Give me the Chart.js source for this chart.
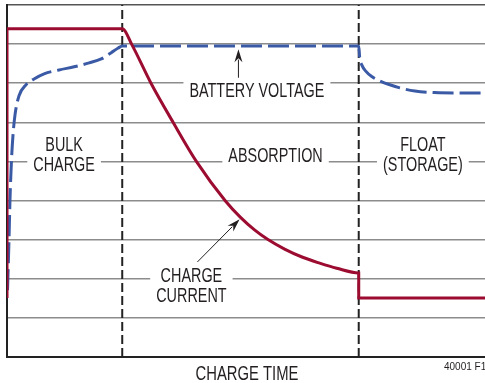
<!DOCTYPE html>
<html>
<head>
<meta charset="utf-8">
<script src="https://cdn.jsdelivr.net/npm/chart.js@4"></script>
<style>
  html, body { margin: 0; padding: 0; background: #fff; }
  #wrap { width: 485px; height: 383px; position: relative; }
</style>
</head>
<body>
<div id="wrap"><canvas id="chart"></canvas></div>
<script>
// charge profile: time on x (arbitrary units), level on y (9 grid divisions)
const phaseBounds = [2.893, 8.83];

const currentTime = [0, 0, 2.893, 3.137, 3.615, 4.176, 4.762, 5.484, 5.862, 6.214, 6.541, 6.969, 7.421, 7.849, 8.277, 8.83, 8.83, 12];
const currentLevel = [1.51, 8.39, 8.39, 7.98, 7.00, 5.99, 4.99, 3.99, 3.57, 3.25, 3.01, 2.76, 2.55, 2.40, 2.27, 2.15, 1.51, 1.51];

const voltageTime = [0.013, 0.05, 0.075, 0.113, 0.151, 0.201, 0.302, 0.478, 0.679, 0.931, 1.308, 1.686, 2.063, 2.365, 2.616, 2.792, 2.893,
  8.83, 8.855, 8.906, 9.006, 9.157, 9.358, 9.61, 9.862, 10.24, 10.74, 11.37, 12];
const voltageLevel = [1.71, 2.99, 4.02, 5.04, 5.68, 6.19, 6.68, 6.96, 7.11, 7.24, 7.34, 7.42, 7.52, 7.62, 7.78, 7.90, 7.95,
  7.95, 7.65, 7.47, 7.31, 7.17, 7.06, 6.96, 6.88, 6.80, 6.76, 6.75, 6.75];

// annotations: text lines and their centre in data units
const labelText = [['BULK', 'CHARGE'], ['ABSORPTION'], ['FLOAT', '(STORAGE)'], ['BATTERY VOLTAGE'], ['CHARGE', 'CURRENT']];
const labelX = [1.434, 6.742, 10.44, 6.274, 4.629];
const labelY = [5.17, 5.14, 5.19, 6.82, 1.84];
const axisTitle = 'CHARGE TIME';
const figureTag = '40001 F14';

// arrows: [tailX, tailY, tipX, tipY]
const arrows = [
  [5.81, 7.14, 5.81, 7.87],
  [4.78, 2.43, 5.84, 3.52]
];

const FONT = '"Liberation Sans", Arial, sans-serif';
const INK = '#231f20';
const NARROW = 0.72;   // horizontal squeeze for the condensed lettering

function narrowText(ctx, text, x, y, sx) {
  ctx.save();
  ctx.translate(x, y);
  ctx.scale(sx, 1);
  ctx.fillText(text, 0, 0);
  ctx.restore();
}

const toPoints = (xs, ys) => xs.map((x, i) => ({ x, y: ys[i] }));

const annotations = {
  id: 'annotations',
  afterDatasetsDraw(chart) {
    const { ctx, chartArea, scales: { x, y } } = chart;
    ctx.save();
    ctx.font = '20px ' + FONT;
    ctx.textAlign = 'center';
    ctx.textBaseline = 'middle';
    const lineH = 20;
    labelText.forEach((lines, i) => {
      const cx = x.getPixelForValue(labelX[i]);
      const cy = y.getPixelForValue(labelY[i]);
      const top = cy - (lines.length - 1) * lineH / 2;
      const w = Math.max(...lines.map(t => ctx.measureText(t).width)) * NARROW;
      ctx.fillStyle = '#fff';
      ctx.fillRect(cx - w / 2 - 6, top - 9, w + 12, (lines.length - 1) * lineH + 18);
      ctx.fillStyle = INK;
      lines.forEach((t, j) => narrowText(ctx, t, cx, top + j * lineH + 1, NARROW));
    });

    narrowText(ctx, axisTitle, (chartArea.left + chartArea.right) / 2 + 1, chartArea.bottom + 17, 0.74);

    ctx.strokeStyle = INK;
    ctx.fillStyle = INK;
    ctx.lineWidth = 1;
    arrows.forEach(([x0, y0, x1, y1]) => {
      const ax = x.getPixelForValue(x0), ay = y.getPixelForValue(y0);
      const bx = x.getPixelForValue(x1), by = y.getPixelForValue(y1);
      const ang = Math.atan2(by - ay, bx - ax);
      const c = Math.cos(ang), s = Math.sin(ang);
      const len = 13, half = 4;
      ctx.beginPath();
      ctx.moveTo(ax, ay);
      ctx.lineTo(bx - c * len * 0.8, by - s * len * 0.8);
      ctx.stroke();
      ctx.beginPath();
      ctx.moveTo(bx, by);
      ctx.lineTo(bx - c * len - s * half, by - s * len + c * half);
      ctx.lineTo(bx - c * len * 0.7, by - s * len * 0.7);
      ctx.lineTo(bx - c * len + s * half, by - s * len - c * half);
      ctx.closePath();
      ctx.fill();
    });

    // figure number runs off the right edge
    ctx.font = '10px ' + FONT;
    ctx.textAlign = 'left';
    ctx.fillText(figureTag, 444, 367);
    ctx.restore();
  }
};

const ctx = document.getElementById('chart').getContext('2d');

const chart = new Chart(ctx, {
  type: 'line',
  data: {
    datasets: [
      {
        label: 'Charge current',
        data: toPoints(currentTime, currentLevel),
        borderColor: '#9c0b30',
        borderWidth: 3,
        pointRadius: 0,
        cubicInterpolationMode: 'monotone'
      },
      {
        label: 'Battery voltage',
        data: toPoints(voltageTime, voltageLevel),
        borderColor: '#3a5aa6',
        borderWidth: 3,
        borderDash: [21, 6],
        pointRadius: 0,
        cubicInterpolationMode: 'monotone'
      },
      ...phaseBounds.map(b => ({
        label: 'phase',
        data: [{ x: b, y: 0 }, { x: b, y: 9 }],
        borderColor: '#222',
        borderWidth: 2,
        borderDash: [9, 4],
        pointRadius: 0
      }))
    ]
  },
  options: {
    responsive: true,
    maintainAspectRatio: false,
    animation: false,
    layout: { padding: { left: 7, top: 5, right: 0, bottom: 26 } },
    plugins: { legend: { display: false }, tooltip: { enabled: false } },
    scales: {
      x: {
        type: 'linear',
        min: 0,
        max: 12,
        ticks: { display: false },
        grid: { display: false, drawTicks: false },
        border: { display: true, color: '#222', width: 2 }
      },
      y: {
        min: 0,
        max: 9,
        ticks: { display: false, stepSize: 1 },
        grid: {
          drawTicks: false,
          lineWidth: 1.5,
          color: c => (c.tick && c.tick.value === 9 ? '#555' : '#8c8c8c')
        },
        border: { display: true, color: '#222', width: 2 }
      }
    }
  },
  plugins: [annotations]
});
</script>
</body>
</html>
